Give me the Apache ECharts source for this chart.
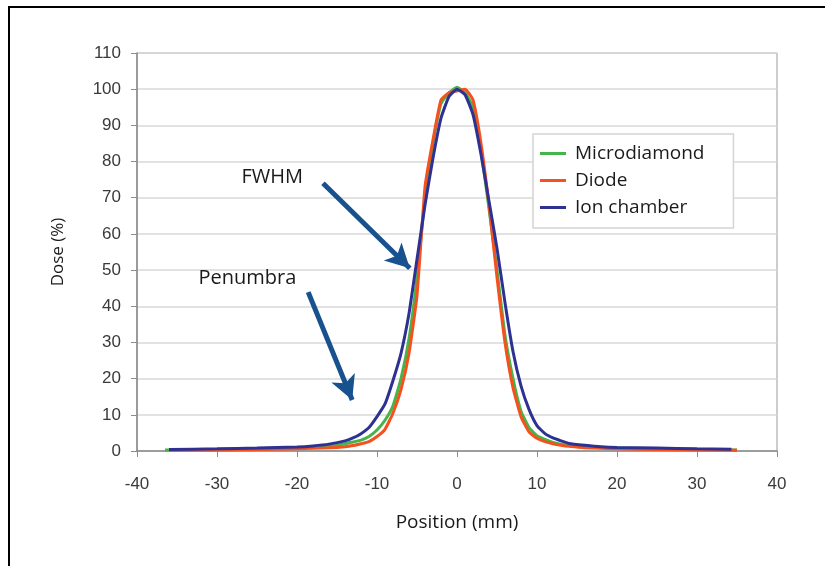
<!DOCTYPE html>
<html><head><meta charset="utf-8">
<script src="https://cdn.jsdelivr.net/npm/echarts@6/dist/echarts.min.js"></script>
<style>
html,body{margin:0;padding:0;background:#fff;}
#c{position:absolute;left:0;top:0;width:825px;height:566px;}
#frame{position:absolute;left:8px;top:6px;width:817px;height:560px;border-left:2px solid #000;border-top:2px solid #000;box-sizing:border-box;pointer-events:none;}
</style>
</head><body><div id="c"></div><div id="frame"></div>
<script>
// Position (mm) and Dose (%) per detector
const microPos  = [-36.5,-30,-25,-20,-16,-15,-14,-13,-12,-11,-10,-9,-8,-7,-6,-5,-4,-3,-2,-1,0,1,2,3,4,5,6,7,8,9,10,11,12,13,14,16,20,25,30,35];
const microDose = [0.3,0.4,0.6,0.8,1.3,1.6,2.0,2.5,3.0,4.0,5.8,8.5,12.5,20,31,48,70,85,96,99,100.5,99,95,83,67,50,32,20,11,6.5,4.2,3.2,2.4,1.9,1.5,1.2,0.8,0.6,0.4,0.3];
const diodePos  = [-36,-30,-25,-20,-16,-14,-13,-12,-11,-10,-9,-8,-7,-6,-5,-4,-3,-2,-1,0,1,2,3,4,5,6,7,8,9,10,11,12,13,14,16,20,25,30,35];
const diodeDose = [0.2,0.3,0.4,0.6,0.9,1.2,1.5,2.0,2.6,4.0,6.0,10.5,17,27,43,73,86,97,99,99.5,100,97,85,68,48,30,17.5,9.5,5.3,3.5,2.6,2.0,1.6,1.3,0.9,0.6,0.4,0.3,0.2];
const ionPos    = [-36,-30,-25,-20,-18,-16,-14,-13,-12,-11,-10,-9,-8,-7,-6,-5,-4,-3,-2,-1,0,1,2,3,4,5,6,7,8,9,10,11,12,13,14,16,18,20,25,30,34.3];
const ionDose   = [0.4,0.6,0.8,1.1,1.4,1.9,2.8,3.6,4.8,6.5,9.5,13,19.5,27,38,53,68,81,92,98,100,98.5,93,82,69,56,41,27.5,18,11.5,7,4.8,3.6,2.8,2.1,1.6,1.2,1.0,0.8,0.6,0.5];
const seriesNames = ['Microdiamond','Diode','Ion chamber'];
const xTicks = [-40,-30,-20,-10,0,10,20,30,40];
const yTicks = [0,10,20,30,40,50,60,70,80,90,100,110];
// Annotations in data coordinates
const fwhmArrow = [[-16.75,74],[-5.9,50.5]];
const penArrow  = [[-18.6,43.9],[-13.1,14.1]];
const labelTexts = ['FWHM','Penumbra'];
const labelPos = [[-23.1,75.6],[-26.2,47.8]];

const zip = (a,b)=>a.map((v,i)=>[v,b[i]]);
const colors = ['#45b549','#f4511e','#2e3192'];
const arrowColor = '#17528f';
const chart = echarts.init(document.getElementById('c'));
const arrowLine = (pts)=>[{coord:pts[0]},{coord:pts[1]}];
chart.setOption({
  animation:false,
  backgroundColor:'#ffffff',
  grid:{left:137,right:48,top:53,bottom:115,show:true,borderColor:'#9a9a9a',borderWidth:1,backgroundColor:'transparent'},
  legend:{
    orient:'vertical', left:533, top:134,
    data:seriesNames,
    icon:'rect', itemWidth:26, itemHeight:3, itemGap:8,
    padding:[10,29,11,7],
    backgroundColor:'#fff', borderColor:'#d4d4d4', borderWidth:1.5,
    textStyle:{fontFamily:'Open Sans',fontSize:19,color:'#1a1a1a',lineHeight:18,padding:[0,0,0,4]}
  },
  xAxis:{
    type:'value', min:xTicks[0], max:xTicks[xTicks.length-1], interval:10,
    name:'Position (mm)', nameLocation:'middle', nameGap:62,
    nameTextStyle:{fontFamily:'Open Sans',fontSize:19,color:'#1a1a1a'},
    axisLine:{show:true,onZero:false,lineStyle:{color:'#8a8a8a',width:1.5}},
    axisTick:{show:true,length:6,lineStyle:{color:'#8a8a8a'}},
    axisLabel:{fontFamily:'Liberation Sans',fontSize:17,color:'#3a3a3a',margin:25},
    splitLine:{show:false}
  },
  yAxis:{
    type:'value', min:yTicks[0], max:yTicks[yTicks.length-1], interval:10,
    name:'Dose (%)', nameLocation:'middle', nameGap:70,
    nameTextStyle:{fontFamily:'Open Sans',fontSize:17,color:'#1a1a1a'},
    axisLine:{show:true,onZero:false,lineStyle:{color:'#8a8a8a',width:1.5}},
    axisTick:{show:true,length:6,lineStyle:{color:'#8a8a8a'}},
    axisLabel:{fontFamily:'Liberation Sans',fontSize:17,color:'#3a3a3a',margin:16},
    splitLine:{show:true,lineStyle:{color:'#d9d9d9',width:1.5}}
  },
  series:[
    {name:seriesNames[0],type:'line',data:zip(microPos,microDose),showSymbol:false,symbol:'none',smooth:0.15,lineStyle:{color:colors[0],width:3},itemStyle:{color:colors[0]}},
    {name:seriesNames[1],type:'line',data:zip(diodePos,diodeDose),showSymbol:false,symbol:'none',smooth:0.15,lineStyle:{color:colors[1],width:3},itemStyle:{color:colors[1]}},
    {name:seriesNames[2],type:'line',data:zip(ionPos,ionDose),showSymbol:false,symbol:'none',smooth:0.15,lineStyle:{color:colors[2],width:3},itemStyle:{color:colors[2]},
      markLine:{silent:true,symbol:['none','arrow'],symbolSize:[19,24],label:{show:false},
        lineStyle:{color:arrowColor,width:5,type:'solid'},
        emphasis:{disabled:true},
        data:[arrowLine(fwhmArrow),arrowLine(penArrow)]}}
  ]
});
const g = labelTexts.map((t,i)=>{
  const p = chart.convertToPixel({gridIndex:0}, labelPos[i]);
  return {type:'text',x:p[0],y:p[1],style:{text:t,fontFamily:'Open Sans',fontSize:20,fill:'#1a1a1a',align:'center',verticalAlign:'middle'}};
});
chart.setOption({graphic:g});
</script></body></html>
